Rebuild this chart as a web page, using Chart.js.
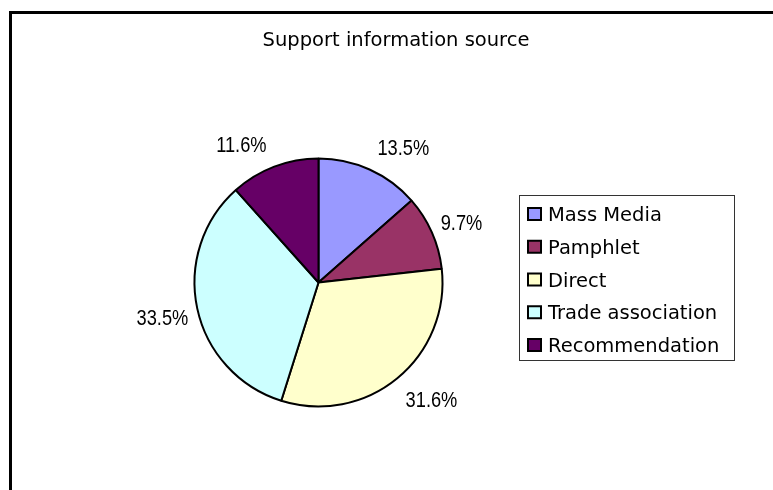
<!DOCTYPE html>
<html>
<head>
<meta charset="utf-8">
<title>Support information source</title>
<script src="https://cdn.jsdelivr.net/npm/chart.js@4.4.1/dist/chart.umd.min.js"></script>
<style>
  html, body { margin: 0; padding: 0; background: #fff; overflow: hidden; }
  #wrap { position: relative; width: 773px; height: 490px; overflow: hidden; }
  #frame { position: absolute; left: 9px; top: 11px; width: 900px; height: 600px; border: 3px solid #000; }
  #chart { position: absolute; left: 0; top: 0; }
</style>
</head>
<body>
<div id="wrap">
  <div id="frame"></div>
  <canvas id="chart" width="773" height="490"></canvas>
</div>
<script>
// Series data
const chartTitle = 'Support information source';
const categories = ['Mass Media', 'Pamphlet', 'Direct', 'Trade association', 'Recommendation'];
const shares = [13.5, 9.7, 31.6, 33.5, 11.6];
const sliceColors = ['#9999FF', '#993366', '#FFFFCC', '#CCFFFF', '#660066'];

/**
 * Title, drawn by hand so it can sit off the pie's axis
 */
const titlePlugin = {
    id: 'plainTitle',
    afterDraw(chart) {
        const ctx = chart.ctx;
        ctx.save();
        ctx.font = '19.5px "DejaVu Sans"';
        ctx.fillStyle = '#000';
        ctx.textAlign = 'center';
        ctx.textBaseline = 'alphabetic';
        ctx.fillText(chartTitle, 396, 46);
        ctx.restore();
    }
};

/**
 * Percent labels outside each slice
 */
const sliceLabelPlugin = {
    id: 'sliceLabels',
    afterDatasetsDraw(chart) {
        const ctx = chart.ctx;
        const meta = chart.getDatasetMeta(0);
        const values = chart.data.datasets[0].data;

        ctx.save();
        ctx.font = '22px "Liberation Sans"';
        ctx.fillStyle = '#000';
        ctx.textBaseline = 'middle';

        meta.data.forEach(function(arc, i) {
            const p = arc.getProps(['x', 'y', 'startAngle', 'endAngle', 'outerRadius'], true);
            const mid = (p.startAngle + p.endAngle) / 2;
            const cos = Math.cos(mid);
            const sin = Math.sin(mid);
            // anchor just outside the rim, a little further out vertically
            const ax = p.x + (p.outerRadius + 2) * cos + 7 * Math.sign(cos);
            const ay = p.y + (p.outerRadius + 23) * sin + 2.25 * Math.sign(sin) + 3;

            ctx.save();
            ctx.translate(ax, ay);
            ctx.scale(0.83, 1);   // narrow figures
            ctx.textAlign = cos >= 0 ? 'left' : 'right';
            ctx.fillText(values[i].toFixed(1) + '%', 0, 0);
            ctx.restore();
        });
        ctx.restore();
    }
};

/**
 * Boxed legend to the right of the pie
 */
const boxLegendPlugin = {
    id: 'boxLegend',
    afterDraw(chart) {
        const ctx = chart.ctx;
        const labels = chart.data.labels;
        const colors = chart.data.datasets[0].backgroundColor;
        const left = 519.5, top = 195.5, width = 215, height = 165;
        const rowGap = 32.75;

        ctx.save();
        ctx.strokeStyle = '#333';
        ctx.lineWidth = 1;
        ctx.strokeRect(left, top, width, height);

        ctx.font = '19.5px "DejaVu Sans"';
        ctx.textAlign = 'left';
        ctx.textBaseline = 'alphabetic';

        labels.forEach(function(label, i) {
            const baseline = 221 + i * rowGap;
            // swatch
            ctx.fillStyle = colors[i];
            ctx.fillRect(528, baseline - 13, 13, 12);
            ctx.strokeStyle = '#000';
            ctx.lineWidth = 2;
            ctx.strokeRect(528, baseline - 13, 13, 12);
            // text
            ctx.fillStyle = '#000';
            ctx.fillText(label, 548, baseline);
        });
        ctx.restore();
    }
};

new Chart(document.getElementById('chart'), {
    type: 'pie',
    data: {
        labels: categories,
        datasets: [{
            data: shares,
            backgroundColor: sliceColors,
            borderColor: '#000',
            borderWidth: 2
        }]
    },
    options: {
        responsive: false,
        animation: false,
        events: [],
        radius: 124,
        layout: {
            padding: { left: 100, right: 236, top: 90, bottom: 15 }
        },
        plugins: {
            legend: { display: false },
            title: { display: false },
            tooltip: { enabled: false }
        }
    },
    plugins: [titlePlugin, sliceLabelPlugin, boxLegendPlugin]
});
</script>
</body>
</html>
